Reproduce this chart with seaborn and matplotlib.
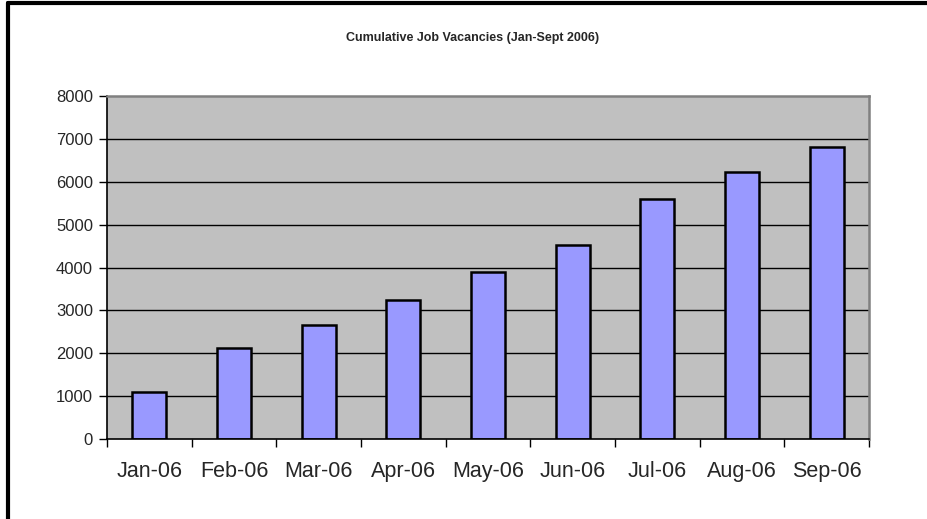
import matplotlib
matplotlib.use("Agg")
import matplotlib.pyplot as plt
from matplotlib.lines import Line2D
import seaborn as sns
import pandas as pd

months = ["Jan-06", "Feb-06", "Mar-06", "Apr-06", "May-06", "Jun-06",
          "Jul-06", "Aug-06", "Sep-06"]
vacancies = [1090, 2130, 2660, 3245, 3890, 4520, 5600, 6230, 6800]
y_ticks = [0, 1000, 2000, 3000, 4000, 5000, 6000, 7000, 8000]
title = "Cumulative Job Vacancies (Jan-Sept 2006)"

sns.set_theme(style="white")
plt.rcParams["font.family"] = ["Liberation Sans", "DejaVu Sans"]

df = pd.DataFrame({"month": months, "vacancies": vacancies})

fig = plt.figure(figsize=(9.28, 5.19), dpi=100)
ax = fig.add_axes([107 / 928, 1 - 439 / 519, (869 - 107) / 928, (439 - 96) / 519])
ax.set_facecolor("#C0C0C0")

sns.barplot(data=df, x="month", y="vacancies", ax=ax, color="#9999FF",
            saturation=1, width=0.4, edgecolor="black", linewidth=1.8,
            zorder=3)

ax.set_ylim(0, 8000)
ax.set_xlim(-0.5, len(months) - 0.5)
ax.set_yticks(y_ticks)
ax.set_yticklabels([str(v) for v in y_ticks], fontsize=12)
ax.set_xlabel("")
ax.set_ylabel("")

# horizontal gridlines
for v in y_ticks[1:-1]:
    ax.axhline(v, color="black", linewidth=1.0, zorder=1)

# category labels centered under bars, tick marks on the boundaries
ax.set_xticks(range(len(months)))
ax.set_xticklabels(months, fontsize=15.5)
ax.tick_params(axis="x", length=0, pad=16)
ax.set_xticks([i - 0.5 for i in range(len(months) + 1)], minor=True)
ax.tick_params(axis="x", which="minor", length=6, width=1, color="black",
               direction="out", bottom=True)
ax.tick_params(axis="y", length=6, width=1, color="black", direction="out",
               left=True, pad=4)

for side in ["left", "bottom"]:
    ax.spines[side].set_color("black")
    ax.spines[side].set_linewidth(1.2)
for side in ["top", "right"]:
    ax.spines[side].set_color("#808080")
    ax.spines[side].set_linewidth(1.8)
for s in ax.spines.values():
    s.set_visible(True)
    s.set_zorder(4)

fig.text(473 / 928, 1 - 38 / 519, title, ha="center", va="center",
         fontsize=9, fontweight="bold")

# outer chart frame (left and top edges)
fig.add_artist(Line2D([8 / 928, 8 / 928], [0, 1 - 3 / 519],
                      transform=fig.transFigure, color="black", linewidth=3))
fig.add_artist(Line2D([8 / 928, 1], [1 - 3 / 519, 1 - 3 / 519],
                      transform=fig.transFigure, color="black", linewidth=3))

fig.savefig("out.png", dpi=100)
